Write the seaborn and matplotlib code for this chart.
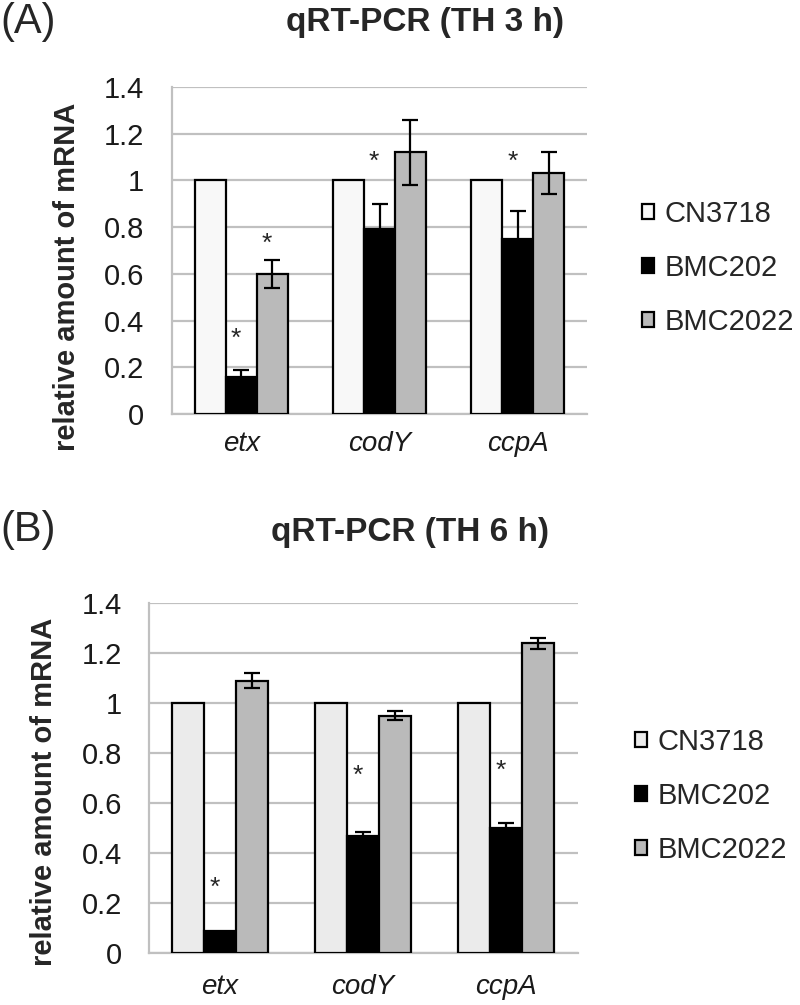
import numpy as np
import pandas as pd
import matplotlib
matplotlib.use("Agg")
import matplotlib.pyplot as plt
import seaborn as sns

# data
genes = ["etx", "codY", "ccpA"]
strains = ["CN3718", "BMC202", "BMC2022"]

mean_3h = {"CN3718": [1.0, 1.0, 1.0],
           "BMC202": [0.16, 0.79, 0.75],
           "BMC2022": [0.60, 1.12, 1.03]}
err_3h = {"CN3718": [0.0, 0.0, 0.0],
          "BMC202": [0.03, 0.11, 0.12],
          "BMC2022": [0.06, 0.14, 0.09]}
stars_3h = [("etx", "BMC202", 0.32), ("etx", "BMC2022", 0.73),
            ("codY", "BMC202", 1.08), ("ccpA", "BMC202", 1.08)]

mean_6h = {"CN3718": [1.0, 1.0, 1.0],
           "BMC202": [0.09, 0.47, 0.50],
           "BMC2022": [1.09, 0.95, 1.24]}
err_6h = {"CN3718": [0.0, 0.0, 0.0],
          "BMC202": [0.0, 0.015, 0.02],
          "BMC2022": [0.03, 0.018, 0.022]}
stars_6h = [("etx", "BMC202", 0.26), ("codY", "BMC202", 0.71),
            ("ccpA", "BMC202", 0.73)]

y_ticks = [0, 0.2, 0.4, 0.6, 0.8, 1.0, 1.2, 1.4]
y_ticklabels = ["0", "0.2", "0.4", "0.6", "0.8", "1", "1.2", "1.4"]

sns.set_style("white")
plt.rcParams['font.family'] = ['Liberation Sans', 'DejaVu Sans']

GRID = '#c0c0c0'


def to_long(means):
    rows = []
    for s in strains:
        for g, v in zip(genes, means[s]):
            rows.append({"gene": g, "strain": s, "value": v})
    return pd.DataFrame(rows)


def draw_panel(fig, rect, means, errs, stars, first_color, title, tag,
               title_xy, tag_y, legend_xy, ylabel_xy, tickpad, xpad):
    ax = fig.add_axes(rect)
    df = to_long(means)
    palette = {"CN3718": first_color, "BMC202": "#000000", "BMC2022": "#bababa"}
    sns.barplot(data=df, x="gene", y="value", hue="strain", order=genes,
                hue_order=strains, palette=palette, edgecolor="black",
                linewidth=1.6, width=0.67, errorbar=None, ax=ax, zorder=3)

    # error bars at bar centres
    for cont, s in zip(ax.containers, strains):
        xs = [b.get_x() + b.get_width() / 2 for b in cont]
        hs = [b.get_height() for b in cont]
        e = np.array(errs[s])
        keep = e > 0
        if keep.any():
            ax.errorbar(np.array(xs)[keep], np.array(hs)[keep], yerr=e[keep],
                        fmt='none', ecolor='black', elinewidth=1.6,
                        capsize=6, capthick=1.6, zorder=4)

    # significance asterisks
    for g, s, y in stars:
        b = ax.containers[strains.index(s)][genes.index(g)]
        x = b.get_x() + b.get_width() / 2 - 0.04
        ax.text(x, y, "*", ha='center', va='center', fontsize=19, zorder=5)

    ax.set_xlim(-0.5, 2.5)
    ax.set_ylim(0, 1.4)
    ax.set_yticks(y_ticks)
    ax.set_yticklabels(y_ticklabels)
    ax.yaxis.grid(True, color=GRID, linewidth=1.6, zorder=0)
    ax.set_axisbelow(True)
    ax.tick_params(axis='y', length=7, width=1.6, color=GRID, direction='out',
                   labelsize=21, pad=tickpad, labelcolor='#1a1a1a')
    ax.tick_params(axis='x', length=0, labelsize=20, pad=xpad,
                   labelcolor='#1a1a1a')
    for lab in ax.get_xticklabels():
        lab.set_fontstyle('italic')
    for side in ['top', 'right']:
        ax.spines[side].set_visible(False)
    ax.spines['left'].set_color(GRID)
    ax.spines['left'].set_linewidth(1.6)
    ax.spines['bottom'].set_color(GRID)
    ax.spines['bottom'].set_linewidth(1.6)

    ax.set_xlabel("")
    ax.set_ylabel("relative amount of mRNA", fontsize=21, fontweight='bold')
    ax.yaxis.set_label_coords(*ylabel_xy)

    handles, labels = ax.get_legend_handles_labels()
    ax.legend_.remove()
    fig.legend(handles, labels, loc='center left', bbox_to_anchor=legend_xy,
               bbox_transform=fig.transFigure, frameon=False, fontsize=21,
               handlelength=0.42, handleheight=0.42, handletextpad=0.35,
               labelspacing=0.9, borderpad=0, borderaxespad=0)

    fig.text(title_xy[0], title_xy[1], title, ha='center', va='center',
             fontsize=24, fontweight='bold')
    fig.text(0.0, tag_y, tag, ha='left', va='center', fontsize=30)
    return ax


fig = plt.figure(figsize=(8.0, 10.05), dpi=100)

W, H = 800, 1005
draw_panel(fig, [172 / W, 1 - 414 / H, 415 / W, 327 / H],
           mean_3h, err_3h, stars_3h, "#f8f8f8",
           "qRT-PCR (TH 3 h)", "(A)",
           (425 / W, 1 - 22 / H), 1 - 22 / H,
           (642 / W, 1 - 268 / H), (-0.22, 0.42), 13, 12)

draw_panel(fig, [148.5 / W, 1 - 953 / H, 429 / W, 350 / H],
           mean_6h, err_6h, stars_6h, "#ebebeb",
           "qRT-PCR (TH 6 h)", "(B)",
           (410 / W, 1 - 533 / H), 1 - 530 / H,
           (635 / W, 1 - 796 / H), (-0.21, 0.46), 12, 15)

fig.savefig("out.png", dpi=100, facecolor='white')
